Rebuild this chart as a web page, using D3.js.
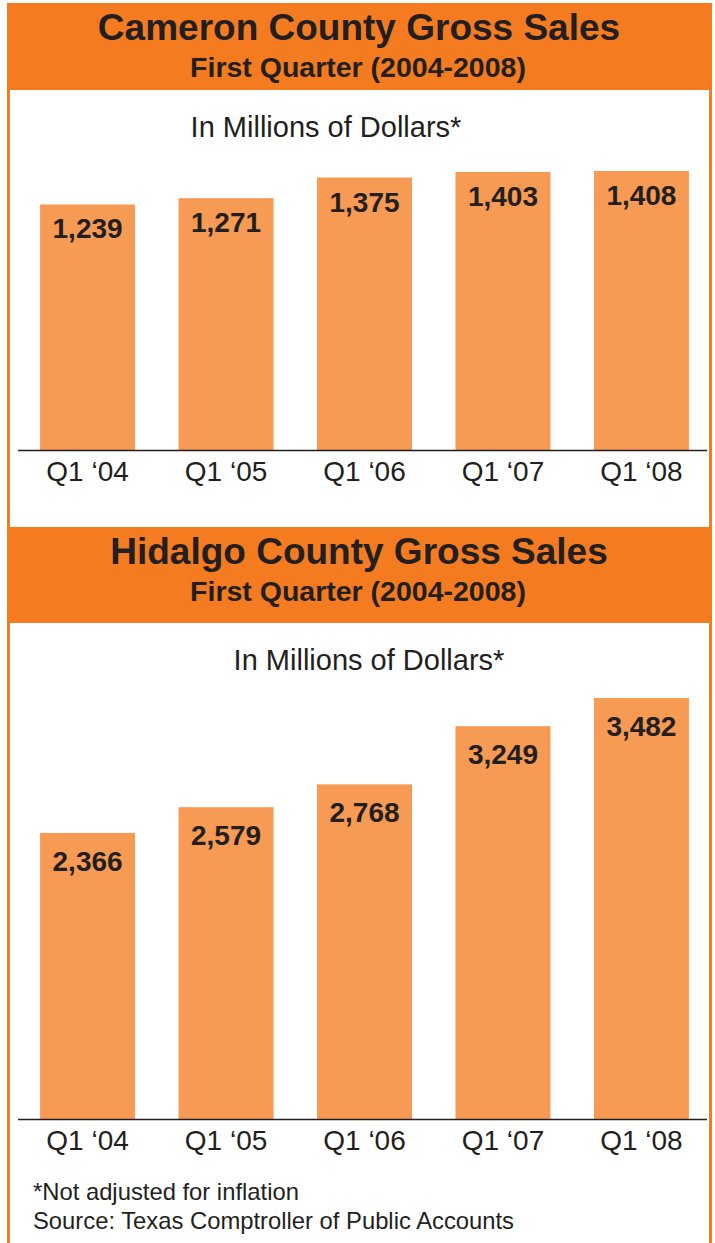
<!DOCTYPE html>
<html>
<head>
<meta charset="utf-8">
<script src="https://cdn.jsdelivr.net/npm/d3@7"></script>
<style>
  html, body { margin: 0; padding: 0; background: #ffffff; }
  svg { display: block; font-family: "Liberation Sans", Arial, Helvetica, sans-serif; }
</style>
</head>
<body>
<svg id="chart" width="715" height="1243"></svg>
<script>
// ---- Data ----
const categories = ["Q1 \u201804", "Q1 \u201805", "Q1 \u201806", "Q1 \u201807", "Q1 \u201808"];
const cameronValues = [1239, 1271, 1375, 1403, 1408];
const hidalgoValues = [2366, 2579, 2768, 3249, 3482];
const cameronTitle = "Cameron County Gross Sales";
const hidalgoTitle = "Hidalgo County Gross Sales";
const subtitleText = "First Quarter (2004-2008)";
const unitText = "In Millions of Dollars*";
const footnotes = ["*Not adjusted for inflation", "Source: Texas Comptroller of Public Accounts"];

// ---- Styles ----
const headerColor = "#F47B20";
const barColor = "#F79A53";
const textColor = "#231F20";
const fmt = d3.format(",");

const svg = d3.select("#chart");

// outer frame side lines
svg.append("line").attr("x1", 8.5).attr("x2", 8.5).attr("y1", 3).attr("y2", 1243)
  .attr("stroke", headerColor).attr("stroke-width", 3);
svg.append("line").attr("x1", 710.5).attr("x2", 710.5).attr("y1", 3).attr("y2", 1243)
  .attr("stroke", headerColor).attr("stroke-width", 3);

function panel(cfg) {
  const g = svg.append("g");
  // header band
  g.append("rect").attr("x", 7).attr("y", cfg.headerTop).attr("width", 705)
    .attr("height", cfg.headerH).attr("fill", headerColor);
  g.append("text").attr("x", 359).attr("y", cfg.headerTop + 37)
    .attr("text-anchor", "middle").attr("font-size", 37).attr("font-weight", "bold")
    .attr("fill", textColor).text(cfg.title);
  g.append("text").attr("x", 358).attr("y", cfg.headerTop + 74)
    .attr("text-anchor", "middle").attr("font-size", 28.5).attr("font-weight", "bold")
    .attr("fill", textColor).text(subtitleText);
  // unit label
  g.append("text").attr("x", cfg.unitX).attr("y", cfg.unitY)
    .attr("text-anchor", "middle").attr("font-size", 29)
    .attr("fill", textColor).text(unitText);

  const x = d3.scaleBand().domain(categories).range([20, 709])
    .paddingInner(0.314).paddingOuter(0.145);
  const y = d3.scaleLinear().domain([0, d3.max(cfg.values)]).range([cfg.baseline, cfg.topY]);
  const data = categories.map((c, i) => ({ c, v: cfg.values[i] }));

  g.selectAll("rect.bar").data(data).join("rect").attr("class", "bar")
    .attr("x", d => x(d.c)).attr("width", x.bandwidth())
    .attr("y", d => y(d.v)).attr("height", d => y(0) - y(d.v))
    .attr("fill", barColor);

  g.selectAll("text.val").data(data).join("text").attr("class", "val")
    .attr("x", d => x(d.c) + x.bandwidth() / 2).attr("y", d => y(d.v) + cfg.labelOffset)
    .attr("text-anchor", "middle").attr("font-size", 28).attr("font-weight", "bold")
    .attr("fill", textColor).text(d => fmt(d.v));

  const axis = d3.axisBottom(x).tickSize(0).tickPadding(0);
  const ag = g.append("g").attr("transform", `translate(0,${cfg.baseline})`).call(axis);
  ag.select(".domain").attr("d", "M18,0.5H707").attr("stroke", textColor).attr("stroke-width", 1.3);
  ag.selectAll(".tick text").attr("font-size", 28).attr("fill", textColor)
    .attr("font-family", "'Liberation Sans', Arial, sans-serif")
    .attr("dy", 0).attr("y", 31);
}

panel({
  headerTop: 3, headerH: 87, title: cameronTitle, values: cameronValues,
  unitX: 326, unitY: 137, baseline: 450, topY: 171, labelOffset: 34
});
panel({
  headerTop: 527, headerH: 96, title: hidalgoTitle, values: hidalgoValues,
  unitX: 369, unitY: 670, baseline: 1119, topY: 698, labelOffset: 38
});

// footnotes
svg.selectAll("text.foot").data(footnotes).join("text").attr("class", "foot")
  .attr("x", 33).attr("y", (d, i) => 1200 + i * 29)
  .attr("font-size", 23.8).attr("fill", textColor).text(d => d);
</script>
</body>
</html>
